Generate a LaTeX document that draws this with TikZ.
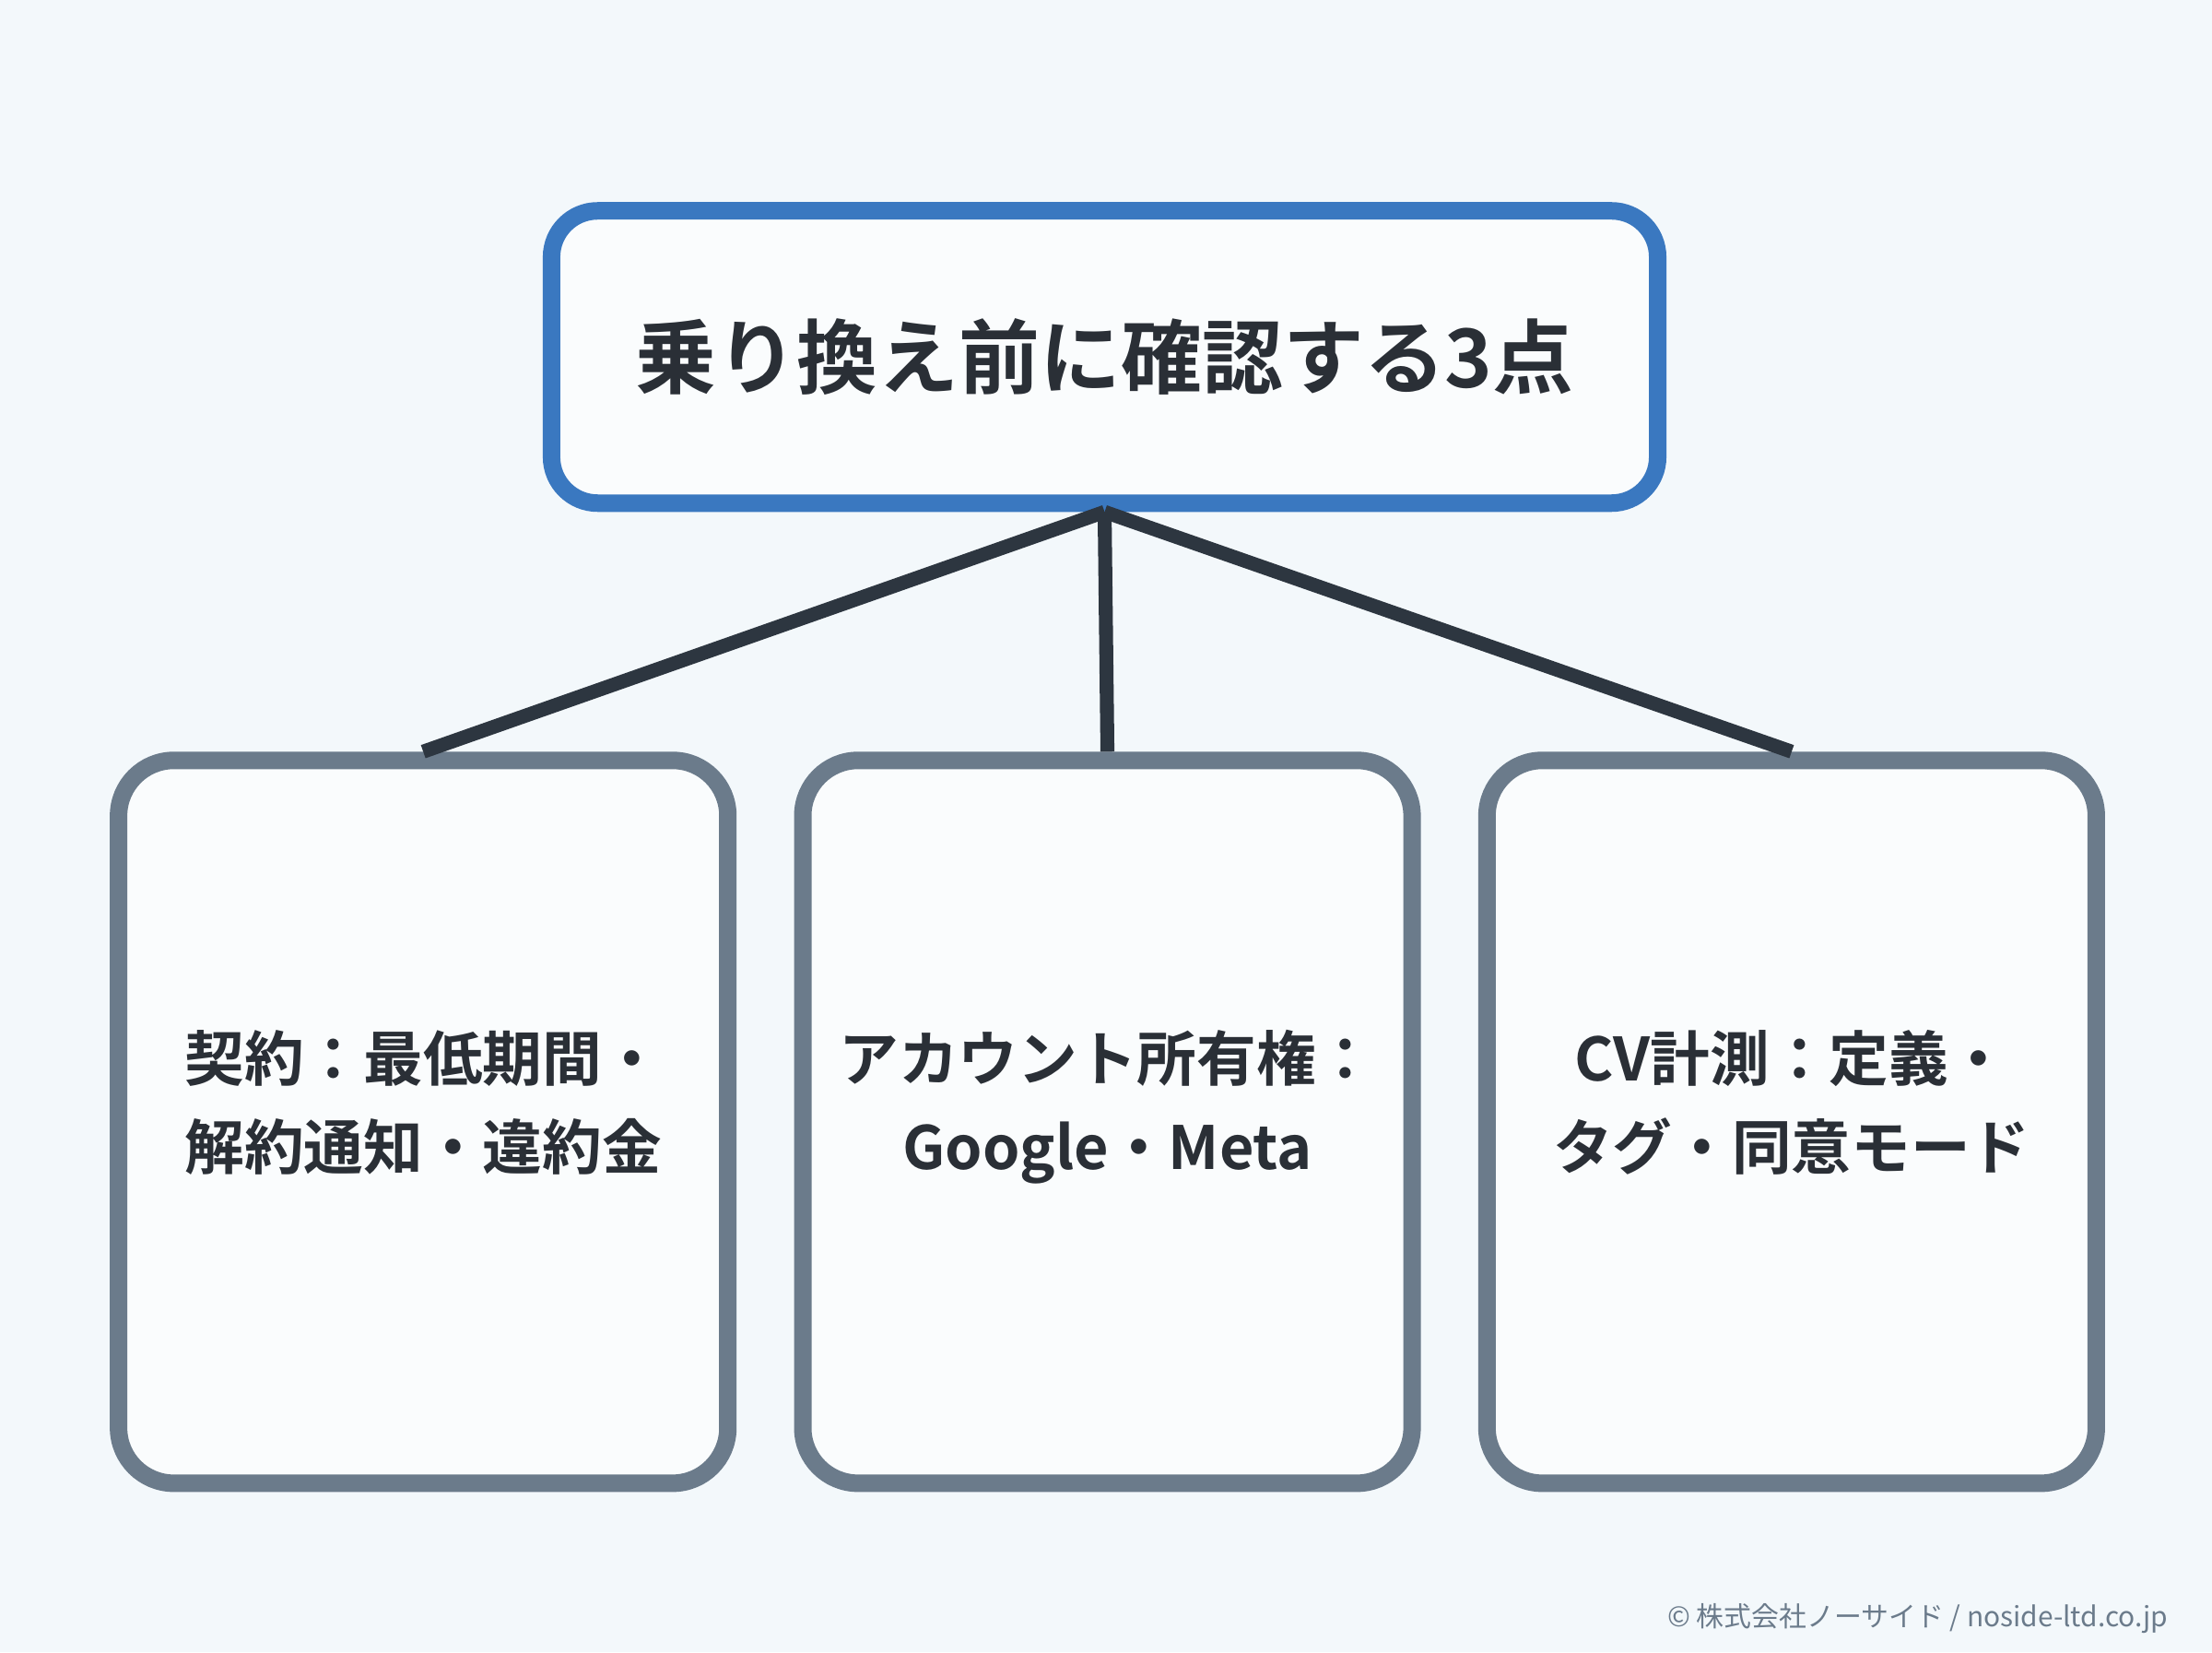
\documentclass[tikz,border=0pt]{standalone}
\usepackage{fontspec}
\setmainfont{Noto Sans CJK JP}[BoldFont={Noto Sans CJK JP Bold}]
\usetikzlibrary{positioning}
\definecolor{bgcol}{HTML}{F3F8FB}
\definecolor{topblue}{HTML}{3A78C0}
\definecolor{boxgray}{HTML}{6B7B8B}
\definecolor{linkdark}{HTML}{2D3640}
\definecolor{textdark}{HTML}{2A2F36}
\begin{document}
\begin{tikzpicture}[
    x={(0.015306cm,0)}, y={(0,-0.015306cm)},
    topbox/.style={draw=topblue, line width=5.4pt, fill=white!60!bgcol, rounded corners=0.5cm,
        minimum width=12.0cm, minimum height=3.17cm, font=\bfseries\fontsize{25}{29}\selectfont, text=textdark},
    itembox/.style={draw=boxgray, line width=5.4pt, fill=white!60!bgcol, rounded corners=0.6cm,
        minimum width=6.61cm, minimum height=7.84cm, align=center, text depth=0.48cm,
        font=\bfseries\fontsize{18.4}{27.5}\selectfont, text=textdark},
    link/.style={draw=linkdark, line width=4.3pt}
]
% Background
\fill[bgcol] (0,0) rectangle (1568,1171);

% Title
\node[topbox] (title) at (783,253) {乗り換え前に確認する3点};

% Items
\node[itembox] (contract) at (300,795) {契約：最低期間・\\解約通知・違約金};
\node[itembox] (account) at (785,795) {アカウント所有権：\\Google・Meta};
\node[itembox] (cv) at (1270,795) {CV計測：定義・\\タグ・同意モード};

% Connectors
\draw[link] (title.south) -- (contract.north);
\draw[link] (title.south) -- (account.north);
\draw[link] (title.south) -- (cv.north);

% Credit
\node[anchor=east, text=boxgray, font=\fontsize{8.5}{10}\selectfont] (credit) at (1545,1147) {© 株式会社ノーサイド / noside-ltd.co.jp};
\end{tikzpicture}
\end{document}
